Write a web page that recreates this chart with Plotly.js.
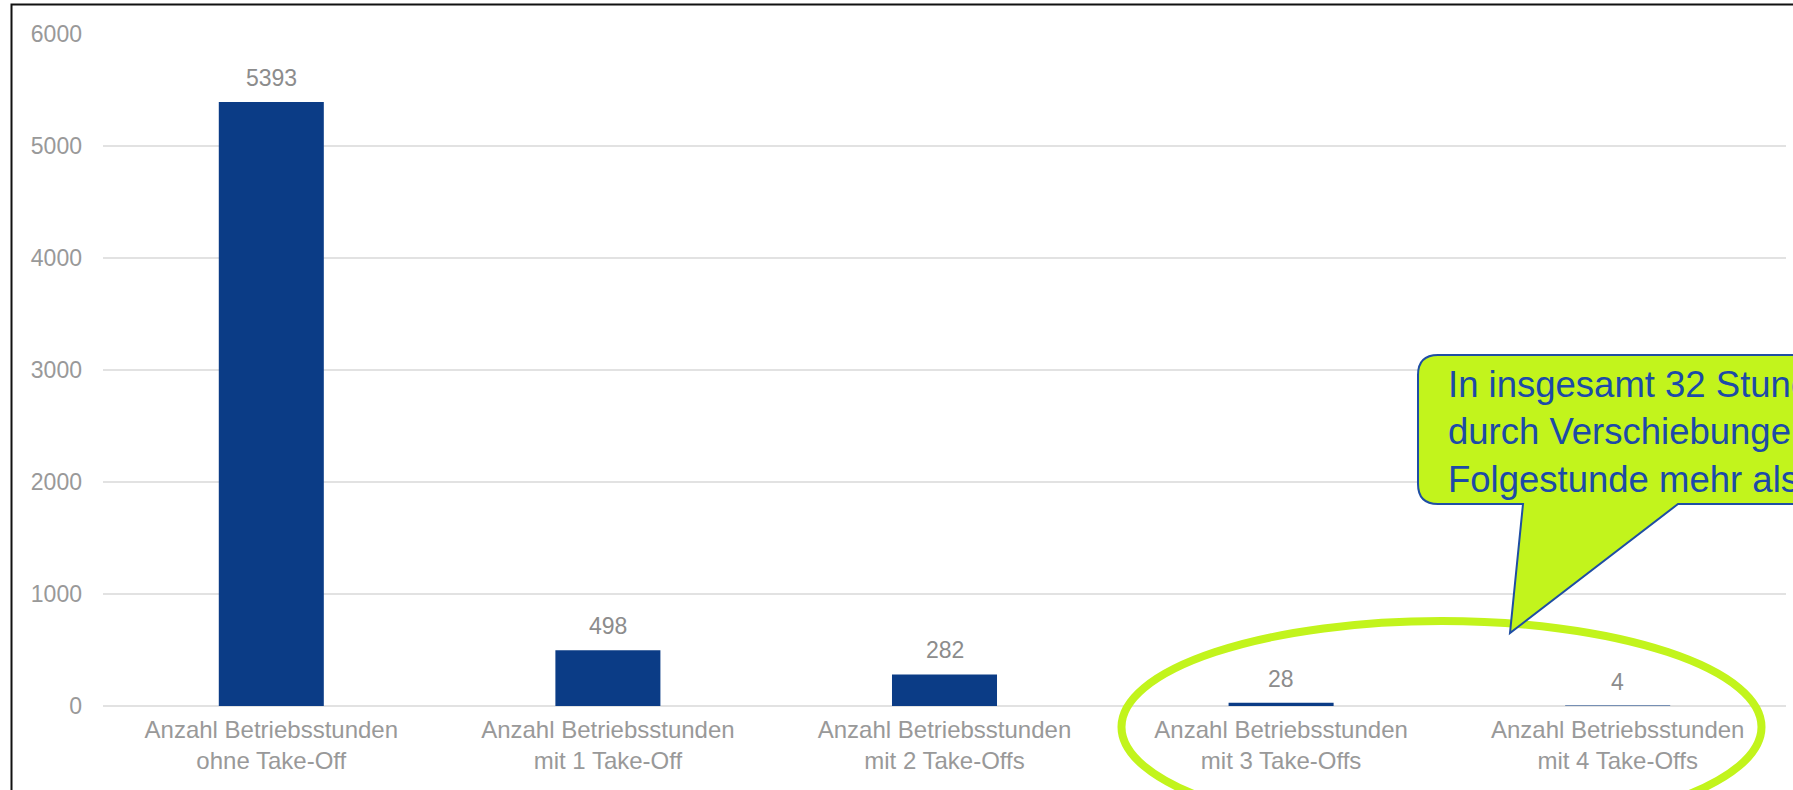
<!DOCTYPE html>
<html>
<head>
<meta charset="utf-8">
<script src="https://cdn.plot.ly/plotly-3.0.1.min.js"></script>
<style>
  html, body { margin: 0; padding: 0; background: #ffffff; }
  #chart { width: 1793px; height: 790px; }
</style>
</head>
<body>
<div id="chart"></div>
<script>
// ---- data ----
const categories = [
  "Anzahl Betriebsstunden<br>ohne Take-Off",
  "Anzahl Betriebsstunden<br>mit 1 Take-Off",
  "Anzahl Betriebsstunden<br>mit 2 Take-Offs",
  "Anzahl Betriebsstunden<br>mit 3 Take-Offs",
  "Anzahl Betriebsstunden<br>mit 4 Take-Offs"
];
const hours = [5393, 498, 282, 28, 4];
const yTicks = [0, 1000, 2000, 3000, 4000, 5000, 6000];
const calloutLines = [
  "In insgesamt 32 Stunden",
  "durch Verschiebungen",
  "Folgestunde mehr als"
];

// ---- layout geometry (pixels) ----
const W = 1793, H = 790;
const ML = 103, MR = 7, MT = 34, MB = 84;
const PW = W - ML - MR, PH = H - MT - MB;
const px = x => (x - ML) / PW;
const py = y => (H - MB - y) / PH;

const FONT = "Arial, 'Liberation Sans', sans-serif";
const LIME = "#c2f41c";
const BLUE = "#1f4ea3";

const trace = {
  type: "bar",
  x: categories,
  y: hours,
  marker: { color: "#0b3c86" },
  hoverinfo: "skip"
};

const valueLabels = categories.map((c, i) => ({
  x: c, y: hours[i], xref: "x", yref: "y",
  text: String(hours[i]), showarrow: false,
  yanchor: "bottom", yshift: 9,
  font: { family: FONT, size: 23, color: "#8c8c8c" }
}));

// speech bubble path (rounded rectangle + pointer)
const bx0 = 1418, bx1 = 1900, by0 = 355, by1 = 504, r = 20;
const tipX = 1510, tipY = 633, baseL = 1523, baseR = 1678;
const P = (x, y) => px(x) + "," + py(y);
const bubblePath =
  "M" + P(bx0 + r, by0) +
  " L" + P(bx1, by0) +
  " L" + P(bx1, by1) +
  " L" + P(baseR, by1) +
  " L" + P(tipX, tipY) +
  " L" + P(baseL, by1) +
  " L" + P(bx0 + r, by1) +
  " Q" + P(bx0, by1) + " " + P(bx0, by1 - r) +
  " L" + P(bx0, by0 + r) +
  " Q" + P(bx0, by0) + " " + P(bx0 + r, by0) + " Z";

const shapes = [
  // outer frame (top + left edges visible)
  { type: "path", xref: "paper", yref: "paper",
    path: "M" + P(11.5, 820) + " L" + P(11.5, 4.5) + " L" + P(1830, 4.5),
    line: { color: "#111111", width: 2 }, layer: "above" },
  // highlight ellipse
  { type: "circle", xref: "paper", yref: "paper",
    x0: px(1121.5), x1: px(1761.5), y0: py(833), y1: py(621),
    line: { color: LIME, width: 8 }, fillcolor: "rgba(0,0,0,0)", layer: "above" },
  // callout bubble
  { type: "path", xref: "paper", yref: "paper", path: bubblePath,
    fillcolor: LIME, line: { color: BLUE, width: 2 }, layer: "above" }
];

const callout = {
  xref: "paper", yref: "paper",
  x: px(1446), y: py(362), xanchor: "left", yanchor: "top",
  align: "left", showarrow: false,
  text: calloutLines.join("<br>"),
  font: { family: FONT, size: 36.5, color: "#1c4aa8" }
};

const layout = {
  width: W, height: H,
  margin: { l: ML, r: MR, t: MT, b: MB, pad: 0 },
  paper_bgcolor: "#ffffff", plot_bgcolor: "#ffffff",
  showlegend: false,
  bargap: 0.688,
  font: { family: FONT, color: "#999999" },
  xaxis: {
    type: "category",
    tickfont: { family: FONT, size: 24, color: "#999999" },
    ticks: "", showline: false, showgrid: false, zeroline: false,
    ticklabelstandoff: 7, fixedrange: true
  },
  yaxis: {
    range: [0, 6000], tickvals: yTicks, ticktext: yTicks.map(String),
    tickfont: { family: FONT, size: 23, color: "#999999" },
    ticks: "", showline: false,
    showgrid: true, gridcolor: "#e2e2e2", gridwidth: 1.5,
    zeroline: true, zerolinecolor: "#e2e2e2", zerolinewidth: 1.5,
    ticklabelstandoff: 20, fixedrange: true
  },
  shapes: shapes,
  annotations: valueLabels.concat([callout])
};

Plotly.newPlot("chart", [trace], layout, { displayModeBar: false, staticPlot: true });
</script>
</body>
</html>
